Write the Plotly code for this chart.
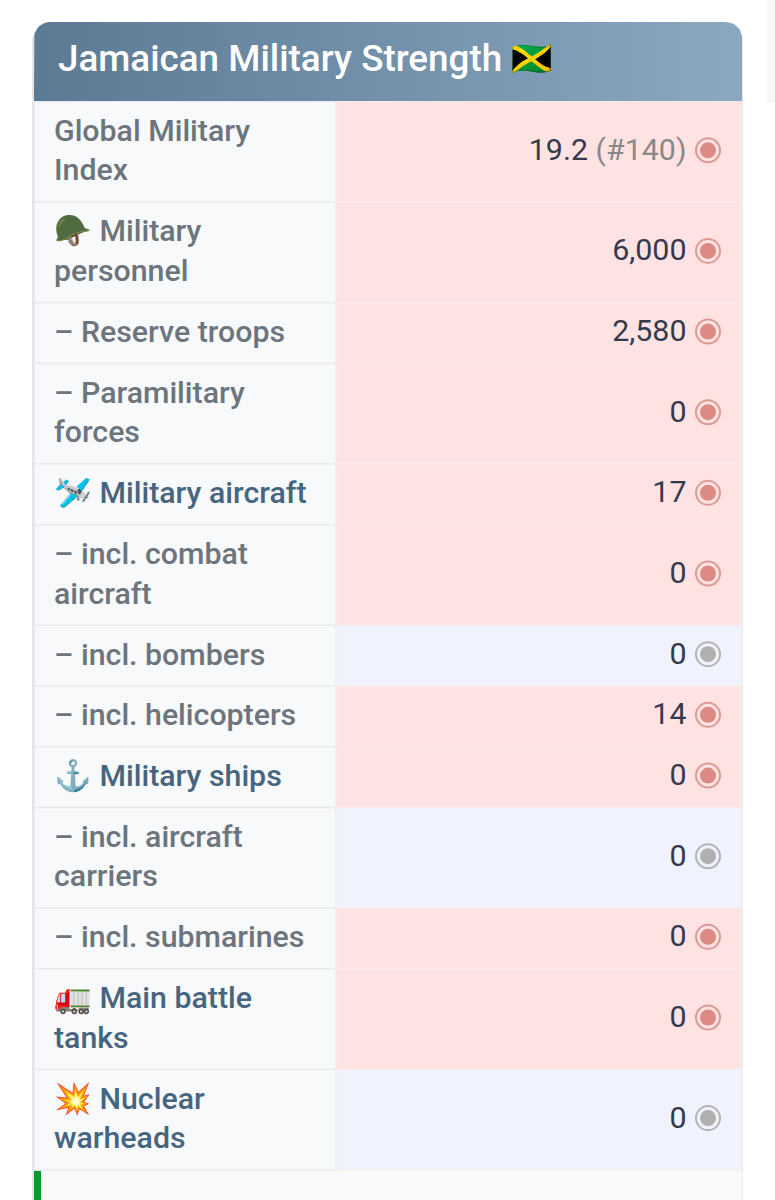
import numpy as np
import plotly.graph_objects as go

title = 'Jamaican Military Strength'
title_flag = '\U0001F1EF\U0001F1F2'
labels = [
    ['Global Military', 'Index'],
    ['\U0001FA96 Military', 'personnel'],
    ['– Reserve troops'],
    ['– Paramilitary', 'forces'],
    ['\U0001F6E9\uFE0F Military aircraft'],
    ['– incl. combat', 'aircraft'],
    ['– incl. bombers'],
    ['– incl. helicopters'],
    ['\u2693 Military ships'],
    ['– incl. aircraft', 'carriers'],
    ['– incl. submarines'],
    ['\U0001F69B Main battle', 'tanks'],
    ['\U0001F4A5 Nuclear', 'warheads'],
]
values = ['19.2', '6,000', '2,580', '0', '17', '0', '0', '14', '0', '0', '0', '0', '0']
ranks = ['(#140)', '', '', '', '', '', '', '', '', '', '', '', '']
# 1 = below average (red cell), 0 = no data (grey cell)
status = [1, 1, 1, 1, 1, 1, 0, 1, 1, 0, 1, 1, 0]
linked = [False, False, False, False, True, False, False, False, True, False, False, True, True]

TOP = 101.5
ONE_LINE = 60.7
TWO_LINE = 100.6
LEFT, MID, RIGHT = 34, 336, 742
FONT = 'Roboto'

heights = np.array([ONE_LINE if len(l) == 1 else TWO_LINE for l in labels])
edges = TOP + np.concatenate([[0], np.cumsum(heights)])
centers = (edges[:-1] + edges[1:]) / 2
cell_colors = ['#ffe3e3' if s else '#f0f2fd' for s in status]

fig = go.Figure()

# left and right table cells
fig.add_trace(go.Bar(orientation='h', y=centers, x=[MID - LEFT] * 13, base=LEFT, width=heights,
                     marker=dict(color='#f8f9fa', line=dict(color='#e9ecef', width=1.5))))
fig.add_trace(go.Bar(orientation='h', y=centers, x=[RIGHT - MID] * 13, base=MID, width=heights,
                     marker=dict(color=cell_colors, line=dict(color='#fbeaea', width=1))))

# header with gradient and rounded corners
r = 16
t = np.linspace(0, np.pi / 2, 10)
hx = np.concatenate([[LEFT], LEFT + r - r * np.cos(t), RIGHT - r + r * np.sin(t), [RIGHT]])
hy = np.concatenate([[101], 22 + r - r * np.sin(t), 22 + r - r * np.cos(t), [101]])
fig.add_trace(go.Scatter(x=hx, y=hy, mode='lines', fill='toself', line=dict(width=0),
                         fillgradient=dict(type='horizontal',
                                           colorscale=[[0, '#5d7a95'], [1, '#8aa8c0']])))
fig.add_trace(go.Scatter(x=[58], y=[62], mode='text', text=[title], textposition='middle right',
                         textfont=dict(family=FONT, size=36.8, color='white', weight=500)))
fig.add_trace(go.Scatter(x=[511], y=[62], mode='text', text=[title_flag], textposition='middle right',
                         textfont=dict(family=FONT, size=33, color='white')))

# label text, one point per line
for label, c, link in zip(labels, centers, linked):
    ys = [c + 1.5] if len(label) == 1 else [c - 18.5, c + 21]
    fig.add_trace(go.Scatter(x=[54] * len(label), y=ys, mode='text', text=label,
                             textposition='middle right',
                             textfont=dict(family=FONT, size=30.3, weight=500,
                                           color='#466580' if link else '#6c757d')))

# value text
value_text = [v if not k else f'{v} <span style="color:#888888">{k}</span>' for v, k in zip(values, ranks)]
fig.add_trace(go.Scatter(x=[686.5] * 13, y=centers + 0.5, mode='text', text=value_text,
                         textposition='middle left',
                         textfont=dict(family=FONT, size=30.4, color='#343a4d')))

# status dots
dot_colors = ['#dd8a84' if s else '#b0b0b0' for s in status]
ring_colors = ['#dd9a94' if s else '#b4b4b4' for s in status]
fig.add_trace(go.Scatter(x=[708] * 13, y=centers - 1.5, mode='markers',
                         marker=dict(size=24, color='rgba(0,0,0,0)',
                                     line=dict(color=ring_colors, width=2))))
fig.add_trace(go.Scatter(x=[708] * 13, y=centers - 1.5, mode='markers',
                         marker=dict(size=16, color=dot_colors)))

fig.update_layout(
    width=775, height=1200, margin=dict(l=0, r=0, t=0, b=0), showlegend=False,
    paper_bgcolor='white', plot_bgcolor='white', barmode='overlay',
    xaxis=dict(range=[0, 775], visible=False, fixedrange=True),
    yaxis=dict(range=[1200, 0], visible=False, fixedrange=True),
    shapes=[
        # footer row and its green edge
        dict(type='rect', x0=LEFT, x1=RIGHT, y0=edges[-1], y1=1200, fillcolor='#f8f9fa',
             line=dict(width=0), layer='below'),
        dict(type='rect', x0=LEFT, x1=41, y0=edges[-1] + 1, y1=1200, fillcolor='#0d9a2a',
             line=dict(width=0)),
        # card outline
        dict(type='line', x0=LEFT - 1, x1=LEFT - 1, y0=36, y1=1200, line=dict(color='#e3e6ea', width=2)),
        dict(type='line', x0=RIGHT + 0.5, x1=RIGHT + 0.5, y0=36, y1=1200, line=dict(color='#e9ecef', width=1)),
        # page scrollbar strip
        dict(type='rect', x0=767, x1=775, y0=0, y1=103, fillcolor='#f7f7f7', line=dict(width=0)),
    ],
)

fig.write_html('out.html', config=dict(displayModeBar=False),
               post_script="document.body.style.margin='0';document.body.style.overflow='hidden';")
